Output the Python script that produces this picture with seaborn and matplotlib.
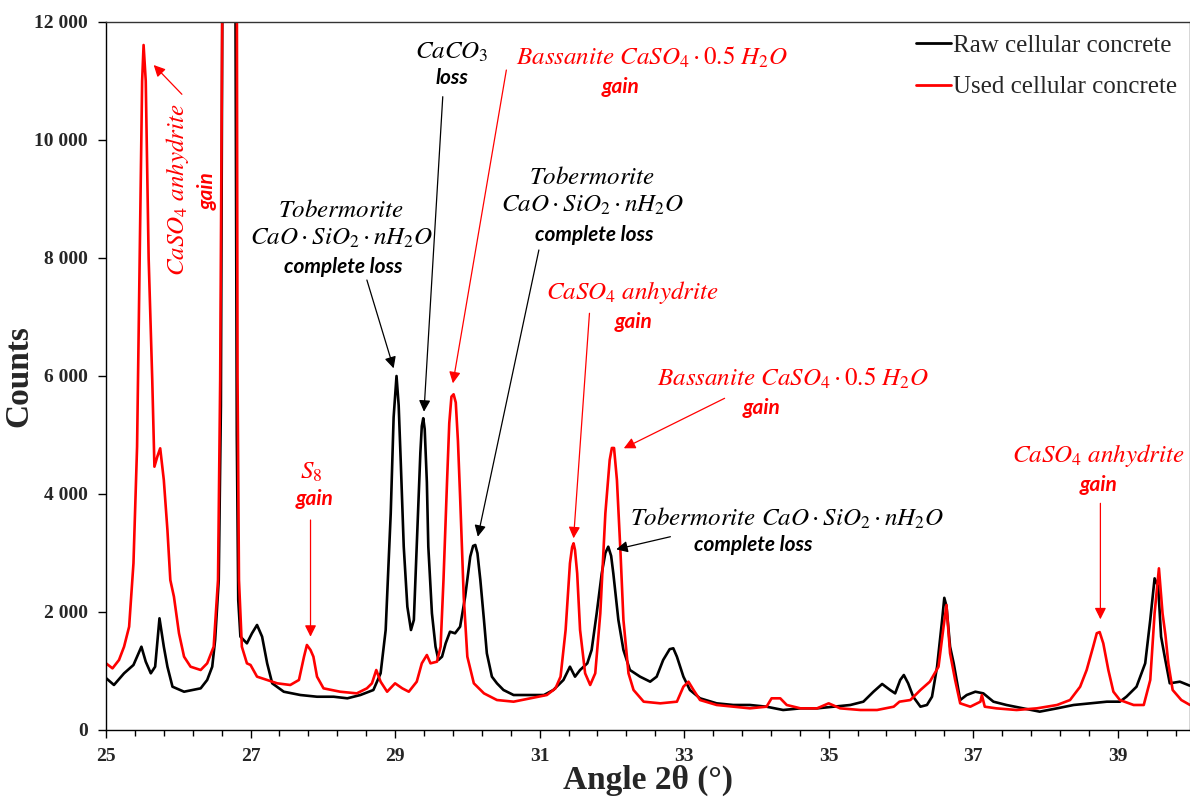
import matplotlib
matplotlib.use('Agg')
import matplotlib.pyplot as plt
from matplotlib.ticker import FixedLocator, FuncFormatter
import seaborn as sns
import pandas as pd
import numpy as np

# XRD patterns (angle 2theta in degrees, counts)
raw_angle = [25.00, 25.11, 25.25, 25.38, 25.49, 25.55, 25.62, 25.68, 25.74, 25.80,
             25.85, 25.92, 26.08, 26.31, 26.40, 26.47, 26.51, 26.56, 26.59, 26.61,
             26.66, 26.72, 26.76, 26.79, 26.81, 26.83, 26.86, 26.95, 27.02, 27.09,
             27.16, 27.23, 27.30, 27.46, 27.69, 27.92, 28.15, 28.34, 28.52, 28.70,
             28.80, 28.87, 28.94, 28.98, 29.02, 29.05, 29.08, 29.12, 29.17, 29.22,
             29.26, 29.30, 29.35, 29.37, 29.39, 29.41, 29.44, 29.46, 29.51, 29.56,
             29.60, 29.65, 29.70, 29.76, 29.83, 29.90, 29.97, 30.04, 30.08, 30.11,
             30.14, 30.18, 30.23, 30.27, 30.34, 30.41, 30.50, 30.64, 30.87, 31.06,
             31.19, 31.33, 31.42, 31.49, 31.56, 31.66, 31.72, 31.79, 31.86, 31.91,
             31.95, 31.99, 32.02, 32.09, 32.16, 32.25, 32.39, 32.53, 32.62, 32.71,
             32.80, 32.85, 32.90, 32.99, 33.08, 33.22, 33.45, 33.68, 33.91, 34.14,
             34.37, 34.61, 34.84, 35.07, 35.30, 35.48, 35.62, 35.74, 35.85, 35.92,
             35.99, 36.04, 36.10, 36.17, 36.27, 36.36, 36.43, 36.50, 36.57, 36.60,
             36.63, 36.68, 36.73, 36.82, 36.91, 37.03, 37.14, 37.28, 37.46, 37.69,
             37.92, 38.16, 38.39, 38.62, 38.85, 39.03, 39.12, 39.26, 39.38, 39.45,
             39.51, 39.56, 39.60, 39.65, 39.72, 39.86, 40.00]
raw_counts = [880, 763, 961, 1102, 1412, 1158, 961, 1073, 1893, 1412,
              1073, 734, 649, 706, 848, 1073, 1525, 2542, 5500, 12500,
              30000, 40000, 30000, 13000, 5000, 2200, 1582, 1469, 1639, 1780,
              1582, 1130, 791, 649, 593, 564, 564, 537, 593, 678,
              961, 1695, 3673, 5300, 6000, 5500, 4500, 3107, 2090, 1695,
              1865, 3107, 4700, 5150, 5284, 5100, 4200, 3107, 1978, 1412,
              1187, 1243, 1469, 1666, 1639, 1751, 2260, 2938, 3120, 3136,
              2995, 2542, 1865, 1300, 904, 791, 678, 593, 593, 593,
              678, 848, 1073, 904, 1017, 1130, 1356, 1978, 2655, 3000,
              3107, 2950, 2655, 1865, 1356, 1017, 904, 819, 904, 1187,
              1370, 1385, 1243, 904, 678, 537, 452, 424, 424, 395,
              339, 367, 367, 395, 424, 480, 649, 780, 678, 621,
              848, 932, 791, 564, 395, 424, 564, 1073, 1865, 2240,
              2100, 1412, 1130, 508, 593, 649, 621, 480, 424, 367,
              311, 367, 424, 452, 480, 480, 564, 734, 1130, 1865,
              2570, 2429, 1582, 1243, 791, 819, 750]

used_angle = [25.00, 25.09, 25.18, 25.25, 25.32, 25.38, 25.43, 25.46, 25.50, 25.52,
              25.55, 25.59, 25.64, 25.67, 25.71, 25.75, 25.80, 25.85, 25.89, 25.94,
              26.01, 26.08, 26.17, 26.31, 26.40, 26.49, 26.55, 26.58, 26.61, 26.66,
              26.72, 26.77, 26.81, 26.82, 26.84, 26.88, 26.95, 27.00, 27.09, 27.23,
              27.37, 27.55, 27.67, 27.74, 27.78, 27.83, 27.87, 27.92, 28.01, 28.24,
              28.47, 28.61, 28.68, 28.74, 28.80, 28.89, 29.00, 29.10, 29.19, 29.30,
              29.37, 29.44, 29.49, 29.58, 29.63, 29.67, 29.72, 29.75, 29.78, 29.81,
              29.84, 29.87, 29.90, 29.95, 30.00, 30.09, 30.23, 30.41, 30.64, 30.87,
              31.10, 31.22, 31.29, 31.36, 31.42, 31.45, 31.47, 31.49, 31.52, 31.56,
              31.63, 31.70, 31.77, 31.84, 31.91, 31.97, 32.00, 32.03, 32.07, 32.12,
              32.16, 32.23, 32.30, 32.44, 32.67, 32.90, 32.99, 33.06, 33.13, 33.22,
              33.45, 33.68, 33.91, 34.14, 34.21, 34.33, 34.42, 34.61, 34.84, 35.00,
              35.16, 35.44, 35.67, 35.90, 35.98, 36.13, 36.27, 36.40, 36.52, 36.59,
              36.63, 36.68, 36.75, 36.82, 36.96, 37.10, 37.12, 37.16, 37.32, 37.60,
              37.88, 38.16, 38.34, 38.48, 38.57, 38.66, 38.71, 38.75, 38.80, 38.87,
              38.94, 39.03, 39.22, 39.36, 39.45, 39.51, 39.57, 39.62, 39.66, 39.70,
              39.76, 39.88, 40.00]
used_counts = [1130, 1045, 1187, 1412, 1751, 2825, 4802, 7500, 11000, 11610,
               11000, 8000, 5933, 4463, 4633, 4774, 4237, 3390, 2542, 2260,
               1639, 1243, 1073, 1017, 1130, 1412, 2542, 5933, 12500, 30000,
               40000, 30000, 13000, 6000, 2542, 1412, 1130, 1102, 904, 848,
               791, 763, 848, 1243, 1441, 1356, 1243, 904, 706, 649,
               621, 706, 791, 1017, 819, 649, 791, 706, 649, 819,
               1130, 1271, 1130, 1158, 1412, 2542, 4237, 5200, 5650, 5690,
               5550, 4900, 3955, 2260, 1243, 791, 621, 508, 480, 537,
               593, 706, 904, 1695, 2825, 3100, 3164, 3050, 2655, 1695,
               961, 763, 961, 1978, 3673, 4577, 4780, 4780, 4237, 2995,
               1865, 961, 678, 480, 452, 480, 734, 819, 678, 508,
               424, 395, 367, 395, 537, 537, 424, 367, 367, 452,
               367, 339, 339, 395, 480, 508, 678, 819, 1073, 1751,
               2119, 1300, 848, 452, 395, 480, 593, 395, 367, 339,
               367, 424, 508, 734, 1017, 1412, 1640, 1660, 1469, 1017,
               649, 508, 424, 424, 848, 1978, 2740, 1978, 1610, 1130,
               678, 508, 424]

labels = ['Raw cellular concrete', 'Used cellular concrete']
colors = ['black', 'red']

df = pd.concat([
    pd.DataFrame({'angle': raw_angle, 'counts': raw_counts, 'sample': labels[0]}),
    pd.DataFrame({'angle': used_angle, 'counts': used_counts, 'sample': labels[1]}),
])

sns.set_theme(style='ticks')
plt.rcParams['font.family'] = ['Liberation Serif', 'DejaVu Serif']
plt.rcParams['mathtext.fontset'] = 'stix'

fig = plt.figure(figsize=(11.9, 7.98), dpi=100)
ax = fig.add_axes([106 / 1190, 68 / 798, 1084 / 1190, 708 / 798])

sns.lineplot(data=df, x='angle', y='counts', hue='sample', hue_order=labels,
             palette=dict(zip(labels, colors)), estimator=None, sort=True,
             lw=1.9, ax=ax)

ax.set_xlim(25, 40)
ax.set_ylim(0, 12000)
ax.set_xticks(np.arange(25, 40, 2))
ax.xaxis.set_minor_locator(FixedLocator(np.arange(25, 40.01, 0.4)))
ax.set_yticks(np.arange(0, 12001, 2000))
ax.yaxis.set_major_formatter(FuncFormatter(lambda v, p: f'{int(v):,}'.replace(',', ' ')))
ax.tick_params(axis='both', which='major', direction='out', length=6, width=1,
               labelsize=14, color='black')
ax.tick_params(axis='y', which='major', pad=7)
ax.tick_params(axis='x', which='major', pad=7)
ax.tick_params(axis='x', which='minor', direction='out', length=4, width=1, color='black')
for lab in ax.get_xticklabels() + ax.get_yticklabels():
    lab.set_fontweight('bold')
for sp in ax.spines.values():
    sp.set_color('#333333')
    sp.set_linewidth(1)
ax.spines['left'].set_color('black')
ax.spines['bottom'].set_color('black')

ax.set_xlabel('Angle 2θ (°)', fontsize=24, fontweight='bold', labelpad=0)
ax.set_ylabel('Counts', fontsize=24, fontweight='bold', labelpad=0)

leg = ax.legend(loc='upper right', bbox_to_anchor=(1.0, 1.0), frameon=False,
                fontsize=18, handlelength=1.4, handletextpad=0.1, labelspacing=0.75,
                borderaxespad=0.1)
for line in leg.get_lines():
    line.set_linewidth(2)

bold_it = dict(family=['Lato', 'DejaVu Sans'], fontweight='bold', fontstyle='italic', fontsize=15)
msize = 18
tob = r'$Tobermorite$'
cso = r'$CaO\cdot SiO_2\cdot nH_2O$'


def note(x, y, s, color, **kw):
    ax.text(x, y, s, color=color, ha='center', va='center', **kw)


def arrow(tail, head, color):
    ax.annotate('', xy=head, xytext=tail,
                arrowprops=dict(arrowstyle='-|>', color=color, lw=0.9,
                                shrinkA=0, shrinkB=0, mutation_scale=17))


# CaSO4 anhydrite (left, vertical)
note(25.99, 9150, r'$CaSO_4\ anhydrite$', 'red', fontsize=msize, rotation=90)
note(26.40, 9140, 'gain', 'red', rotation=90, **bold_it)
arrow((26.05, 10775), (25.66, 11271), 'red')

# Tobermorite near 29
note(28.26, 8800, tob, 'black', fontsize=msize)
note(28.26, 8330, cso, 'black', fontsize=msize)
note(28.28, 7850, 'complete loss', 'black', **bold_it)
arrow((28.61, 7627), (28.98, 6130), 'black')

# CaCO3
note(29.79, 11490, r'$CaCO_3$', 'black', fontsize=msize)
note(29.79, 11050, 'loss', 'black', **bold_it)
arrow((29.66, 10734), (29.40, 5395), 'black')

# Bassanite top
note(32.56, 11400, r'$Bassanite\ CaSO_4\cdot 0.5\ H_2O$', 'red', fontsize=msize)
note(32.12, 10900, 'gain', 'red', **bold_it)
arrow((30.54, 11186), (29.80, 5876), 'red')

# Tobermorite near 30
note(31.73, 9360, tob, 'black', fontsize=msize)
note(31.73, 8900, cso, 'black', fontsize=msize)
note(31.75, 8390, 'complete loss', 'black', **bold_it)
arrow((30.99, 8136), (30.145, 3276), 'black')

# CaSO4 anhydrite middle
note(32.28, 7420, r'$CaSO_4\ anhydrite$', 'red', fontsize=msize)
note(32.30, 6915, 'gain', 'red', **bold_it)
arrow((31.69, 7063), (31.47, 3249), 'red')

# Bassanite middle
note(34.51, 5966, r'$Bassanite\ CaSO_4\cdot 0.5\ H_2O$', 'red', fontsize=msize)
note(34.07, 5460, 'gain', 'red', **bold_it)
arrow((33.56, 5622), (32.165, 4775), 'red')

# Tobermorite near 32
note(34.42, 3593, tob[:-1] + r'\ ' + cso[1:], 'black', fontsize=msize)
note(33.95, 3136, 'complete loss', 'black', **bold_it)
arrow((32.81, 3276), (32.06, 3062), 'black')

# CaSO4 anhydrite right
note(38.73, 4660, r'$CaSO_4\ anhydrite$', 'red', fontsize=msize)
note(38.73, 4153, 'gain', 'red', **bold_it)
arrow((38.76, 3842), (38.76, 1876), 'red')

# S8
note(27.84, 4373, r'$S_8$', 'red', fontsize=msize)
note(27.885, 3915, 'gain', 'red', **bold_it)
arrow((27.83, 3559), (27.83, 1581), 'red')

fig.savefig('out.png', dpi=100)
